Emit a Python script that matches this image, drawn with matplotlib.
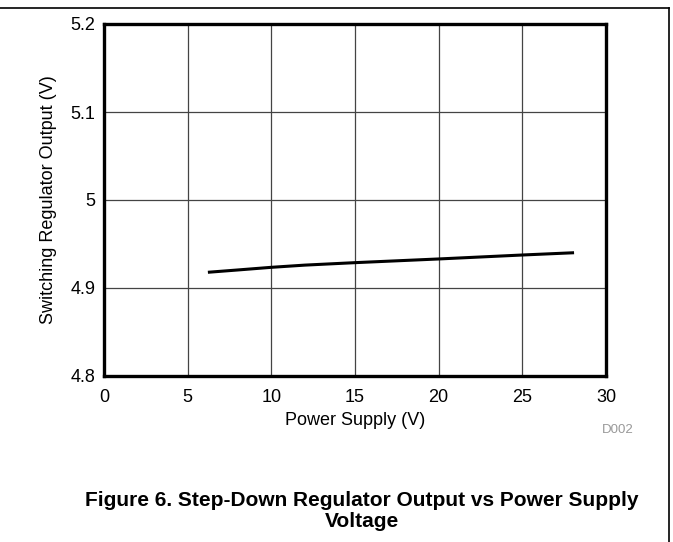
import matplotlib
matplotlib.use("Agg")
import matplotlib.pyplot as plt
from matplotlib.lines import Line2D

supply_v = [6.3, 8, 10, 12, 15, 20, 25, 28]
output_v = [4.918, 4.9205, 4.9235, 4.926, 4.9288, 4.933, 4.9375, 4.940]
x_ticks = [0, 5, 10, 15, 20, 25, 30]
y_ticks = [4.8, 4.9, 5.0, 5.1, 5.2]
y_tick_labels = ["4.8", "4.9", "5", "5.1", "5.2"]

plt.rcParams['font.family'] = ['Liberation Sans', 'DejaVu Sans']

fig = plt.figure(figsize=(6.73, 5.42), dpi=100)
ax = fig.add_axes([104/673, 1-376/542, (606-104)/673, (376-24)/542])

ax.plot(supply_v, output_v, color='black', lw=2.2, zorder=3)
ax.set_xlim(0, 30)
ax.set_ylim(4.8, 5.2)
ax.set_xticks(x_ticks)
ax.set_yticks(y_ticks)
ax.set_yticklabels(y_tick_labels)
ax.grid(True, color='#444444', lw=0.9)
ax.tick_params(length=0, labelsize=13)
ax.tick_params(axis='x', pad=9)
ax.tick_params(axis='y', pad=6)
for s in ax.spines.values():
    s.set_linewidth(2.4)
ax.set_xlabel("Power Supply (V)", fontsize=13, labelpad=5)
ax.set_ylabel("Switching Regulator Output (V)", fontsize=13, labelpad=10)

fig.text(618/673, 1-430/542, "D002", fontsize=9.5, color='#999999', ha='center', va='center')
fig.text(362/673, 1-511/542, "Figure 6. Step-Down Regulator Output vs Power Supply\nVoltage",
         fontsize=15, fontweight='bold', ha='center', va='center', linespacing=1.15)

fig.add_artist(Line2D([0, 669/673], [1-8/542, 1-8/542], color='black', lw=1.2, transform=fig.transFigure))
fig.add_artist(Line2D([669/673, 669/673], [1-8/542, 0], color='black', lw=1.2, transform=fig.transFigure))

fig.savefig("out.png", dpi=100)
